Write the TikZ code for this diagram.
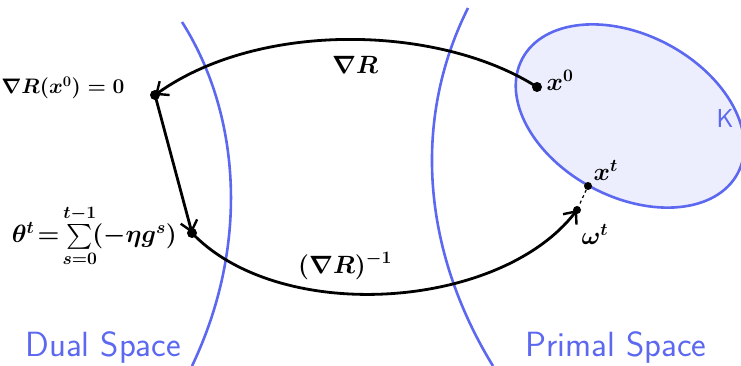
\documentclass[tikz,border=0pt]{standalone}
\usepackage{fix-cm}
\usepackage{amsmath}
\usetikzlibrary{arrows.meta}
\definecolor{penblue}{RGB}{92,104,240}
\definecolor{kfill}{RGB}{236,238,253}
\begin{document}
\begin{tikzpicture}[x=1pt,y=-1pt,
  bluepen/.style={draw=penblue,line width=2.6pt},
  blackpen/.style={draw=black,line width=2.8pt},
  arr/.style={blackpen,-{Straight Barb[length=10pt,width=17pt,line width=2.4pt]}},
  dot/.style={circle,fill=black,inner sep=0pt,minimum size=10pt},
  mlabel/.style={font=\fontsize{21}{25}\selectfont},
  plabel/.style={font=\fontsize{25}{30}\selectfont},
  slabel/.style={font=\fontsize{35}{40}\selectfont\sffamily,text=penblue}]
\useasboundingbox (0,0) rectangle (741,366);
% spaces boundaries
\draw[bluepen] (182,22) .. controls (238,110) and (252,240) .. (192,366);
\draw[bluepen] (468,8) .. controls (412,120) and (422,250) .. (493,366);
% constraint set
\draw[bluepen,fill=kfill] (630,116) ellipse[x radius=122,y radius=81,rotate=-28];
\node[font=\fontsize{26}{30}\selectfont\sffamily,text=penblue] (K) at (725,118) {K};
% points
\node[dot] (x0) at (537,87) {};
\node[dot] (A) at (155,95) {};
\node[dot] (T) at (192,233) {};
\node[dot,minimum size=8pt] (xt) at (588,186) {};
\node[dot,minimum size=8pt] (wt) at (577,210) {};
% labels
\node[plabel,anchor=west] (lx0) at (543,80) {$\boldsymbol{x^{0}}$};
\node[plabel,anchor=west] (lxt) at (590,170) {$\boldsymbol{x^{t}}$};
\node[plabel,anchor=west] (lwt) at (578,234) {$\boldsymbol{\omega^{t}}$};
\node[mlabel,anchor=east] (lA) at (128,88) {$\boldsymbol{\nabla R(x^0)=0}$};
\node[plabel,anchor=east,inner sep=1pt] (lT) at (178,236) {$\boldsymbol{\theta^t\!=\!\sum\limits_{s=0}^{t-1}\!(-\eta g^s)}$};
\node[plabel] (lgrad) at (355,65) {$\boldsymbol{\nabla R}$};
\node[plabel] (linv) at (345,266) {$\boldsymbol{(\nabla R)^{-1}}$};
% arrows
\draw[arr] (x0.center) .. controls (440,25) and (260,20) .. (A.center);
\draw[arr] (A.center) -- (T.center);
\draw[arr] (T.center) .. controls (280,325) and (500,310) .. (wt.center);
\draw[black,line width=1.2pt,dashed] (xt) -- (wt);
% space names
\node[slabel,anchor=base west] (dual) at (22,356) {Dual Space};
\node[slabel,anchor=base west] (primal) at (522,356) {Primal Space};
\end{tikzpicture}
\end{document}
